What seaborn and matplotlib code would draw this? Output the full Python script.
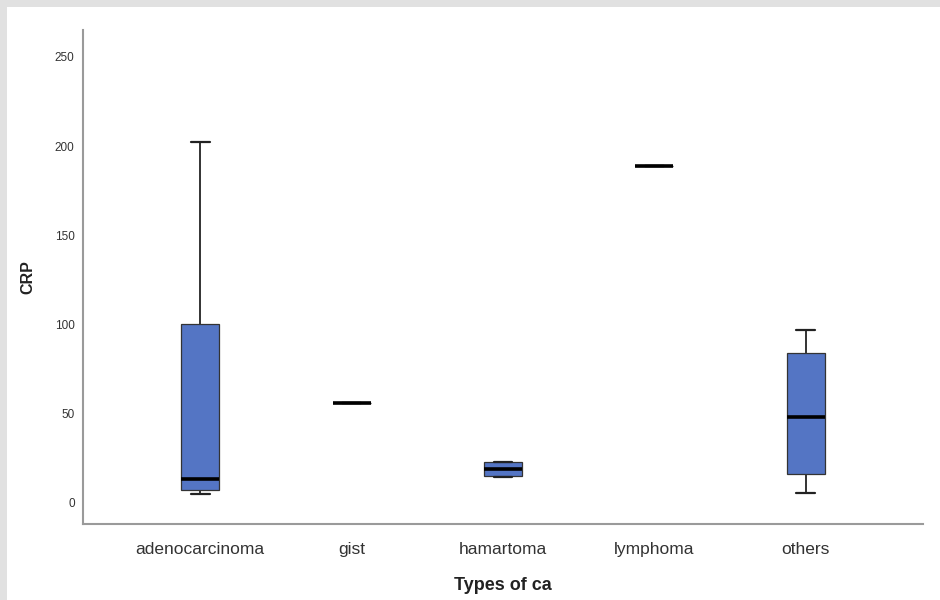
import matplotlib
matplotlib.use("Agg")
import matplotlib.pyplot as plt
import seaborn as sns
import pandas as pd
from matplotlib.patches import Rectangle

# Data (five-number summaries as points)
categories = ["adenocarcinoma", "gist", "hamartoma", "lymphoma", "others"]
adenocarcinoma = [5, 7.3, 13.6, 100, 202]
gist = [56]
hamartoma = [14.5, 15, 19, 23, 23]
lymphoma = [189]
others = [5.6, 16, 48, 84, 97]
y_ticks = [0, 50, 100, 150, 200, 250]

series = dict(zip(categories, [adenocarcinoma, gist, hamartoma, lymphoma, others]))
df = pd.DataFrame(
    [(c, v) for c, vals in series.items() for v in vals],
    columns=["Types of ca", "CRP"],
)

sns.set_theme(style="white")
plt.rcParams["font.family"] = ["Liberation Sans", "DejaVu Sans"]

fig = plt.figure(figsize=(9.4, 6), dpi=100)
fig.patch.set_facecolor("#e1e1e1")
fig.patches.append(Rectangle((7 / 940, 0), 1, 1 - 7 / 600, transform=fig.transFigure,
                             facecolor="white", edgecolor="none", zorder=-10))

ax = fig.add_axes([83 / 940, 1 - 524 / 600, (923 - 83) / 940, (524 - 30) / 600])
ax.set_facecolor("white")

sns.boxplot(
    data=df, x="Types of ca", y="CRP", order=categories, ax=ax,
    color="#5475c4", saturation=1, width=0.25, whis=1.5,
    linecolor="#222222", linewidth=1.0,
    boxprops=dict(edgecolor="#333333", linewidth=0.9),
    medianprops=dict(color="black", linewidth=2.6),
    whiskerprops=dict(color="#333333", linewidth=1.4),
    capprops=dict(color="#222222", linewidth=1.6),
    showfliers=False,
)

ax.set_xlim(-0.775, 4.775)
ax.set_ylim(-11.8, 265)
ax.set_yticks(y_ticks)
ax.set_yticklabels([str(t) for t in y_ticks])
ax.tick_params(axis="y", length=0, pad=6, labelsize=8.5, labelcolor="#333333")
ax.tick_params(axis="x", length=0, pad=13, labelsize=12.5, labelcolor="#333333")

for side in ["top", "right"]:
    ax.spines[side].set_visible(False)
for side in ["left", "bottom"]:
    ax.spines[side].set_color("#9a9a9a")
    ax.spines[side].set_linewidth(1.5)

ax.set_xlabel("Types of ca", fontsize=13, fontweight="bold", color="#222222", labelpad=14)
ax.set_ylabel("CRP", fontsize=11.5, fontweight="bold", color="#222222", labelpad=14)

fig.savefig("out.png", dpi=100, facecolor=fig.get_facecolor())
